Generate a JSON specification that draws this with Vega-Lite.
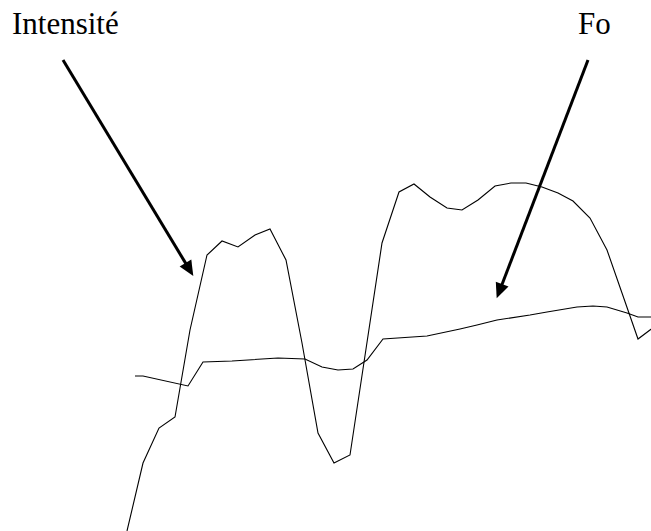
{
  "$schema": "https://vega.github.io/schema/vega-lite/v6.json",
  "width": 651,
  "height": 531,
  "autosize": {"type": "fit", "contains": "padding"},
  "padding": 0,
  "background": "white",
  "config": {"view": {"stroke": null}},
  "datasets": {
    "curves": [
      {"series": "Intensité", "t": 127, "v": 0},
      {"series": "Intensité", "t": 143, "v": 68},
      {"series": "Intensité", "t": 159, "v": 103},
      {"series": "Intensité", "t": 175, "v": 114},
      {"series": "Intensité", "t": 190, "v": 201},
      {"series": "Intensité", "t": 207, "v": 276},
      {"series": "Intensité", "t": 222, "v": 290},
      {"series": "Intensité", "t": 238, "v": 284},
      {"series": "Intensité", "t": 255, "v": 296},
      {"series": "Intensité", "t": 270, "v": 302},
      {"series": "Intensité", "t": 286, "v": 271},
      {"series": "Intensité", "t": 302, "v": 188},
      {"series": "Intensité", "t": 318, "v": 98},
      {"series": "Intensité", "t": 334, "v": 68},
      {"series": "Intensité", "t": 350, "v": 76},
      {"series": "Intensité", "t": 382, "v": 288},
      {"series": "Intensité", "t": 399, "v": 339},
      {"series": "Intensité", "t": 414, "v": 347},
      {"series": "Intensité", "t": 430, "v": 334},
      {"series": "Intensité", "t": 447, "v": 323},
      {"series": "Intensité", "t": 462, "v": 321},
      {"series": "Intensité", "t": 478, "v": 331},
      {"series": "Intensité", "t": 495, "v": 345},
      {"series": "Intensité", "t": 511, "v": 348},
      {"series": "Intensité", "t": 526, "v": 348},
      {"series": "Intensité", "t": 542, "v": 344},
      {"series": "Intensité", "t": 558, "v": 338},
      {"series": "Intensité", "t": 573, "v": 330},
      {"series": "Intensité", "t": 590, "v": 313},
      {"series": "Intensité", "t": 607, "v": 281},
      {"series": "Intensité", "t": 622, "v": 238},
      {"series": "Intensité", "t": 638, "v": 192},
      {"series": "Intensité", "t": 654, "v": 204},
      {"series": "Fo", "t": 135, "v": 155},
      {"series": "Fo", "t": 143, "v": 155},
      {"series": "Fo", "t": 188, "v": 145},
      {"series": "Fo", "t": 203, "v": 169},
      {"series": "Fo", "t": 232, "v": 170},
      {"series": "Fo", "t": 278, "v": 173},
      {"series": "Fo", "t": 305, "v": 172},
      {"series": "Fo", "t": 322, "v": 164},
      {"series": "Fo", "t": 338, "v": 161},
      {"series": "Fo", "t": 353, "v": 162},
      {"series": "Fo", "t": 367, "v": 171},
      {"series": "Fo", "t": 383, "v": 192},
      {"series": "Fo", "t": 427, "v": 195},
      {"series": "Fo", "t": 460, "v": 202},
      {"series": "Fo", "t": 477, "v": 206},
      {"series": "Fo", "t": 497, "v": 211},
      {"series": "Fo", "t": 530, "v": 216},
      {"series": "Fo", "t": 547, "v": 219},
      {"series": "Fo", "t": 577, "v": 224},
      {"series": "Fo", "t": 593, "v": 225},
      {"series": "Fo", "t": 607, "v": 224},
      {"series": "Fo", "t": 627, "v": 218},
      {"series": "Fo", "t": 638, "v": 214},
      {"series": "Fo", "t": 651, "v": 214}
    ],
    "labels": [
      {"label": "Intensité", "t": 12, "v": 497, "t0": 63, "v0": 471, "t1": 189.2, "v1": 261.9, "tt": 193.3, "vt": 255},
      {"label": "Fo", "t": 578, "v": 497, "t0": 588, "v0": 471, "t1": 499.6, "v1": 240.2, "tt": 496.7, "vt": 232.7}
    ]
  },
  "layer": [
    {
      "data": {"name": "curves"},
      "mark": {"type": "line", "color": "black", "strokeWidth": 1.1, "clip": true},
      "encoding": {
        "x": {"field": "t", "type": "quantitative", "scale": {"domain": [0, 651], "nice": false, "zero": false}, "axis": null},
        "y": {"field": "v", "type": "quantitative", "scale": {"domain": [0, 531], "nice": false, "zero": false}, "axis": null},
        "detail": {"field": "series"},
        "order": {"field": "t", "type": "quantitative"}
      }
    },
    {
      "data": {"name": "labels"},
      "mark": {"type": "text", "font": "Liberation Serif", "fontSize": 31, "align": "left", "baseline": "alphabetic", "color": "black"},
      "encoding": {
        "x": {"field": "t", "type": "quantitative"},
        "y": {"field": "v", "type": "quantitative"},
        "text": {"field": "label"}
      }
    },
    {
      "data": {"name": "labels"},
      "mark": {"type": "rule", "color": "black", "strokeWidth": 3},
      "encoding": {
        "x": {"field": "t0", "type": "quantitative"},
        "y": {"field": "v0", "type": "quantitative"},
        "x2": {"field": "t1"},
        "y2": {"field": "v1"}
      }
    },
    {
      "data": {"name": "labels"},
      "transform": [{"filter": "datum.label == 'Intensité'"}],
      "mark": {"type": "point", "shape": "M0,0L-0.85,1.9L0.85,1.9Z", "filled": true, "color": "black", "opacity": 1, "size": 256, "angle": 149, "strokeWidth": 0},
      "encoding": {
        "x": {"field": "tt", "type": "quantitative"},
        "y": {"field": "vt", "type": "quantitative"}
      }
    },
    {
      "data": {"name": "labels"},
      "transform": [{"filter": "datum.label == 'Fo'"}],
      "mark": {"type": "point", "shape": "M0,0L-0.85,1.9L0.85,1.9Z", "filled": true, "color": "black", "opacity": 1, "size": 256, "angle": 201, "strokeWidth": 0},
      "encoding": {
        "x": {"field": "tt", "type": "quantitative"},
        "y": {"field": "vt", "type": "quantitative"}
      }
    }
  ]
}
